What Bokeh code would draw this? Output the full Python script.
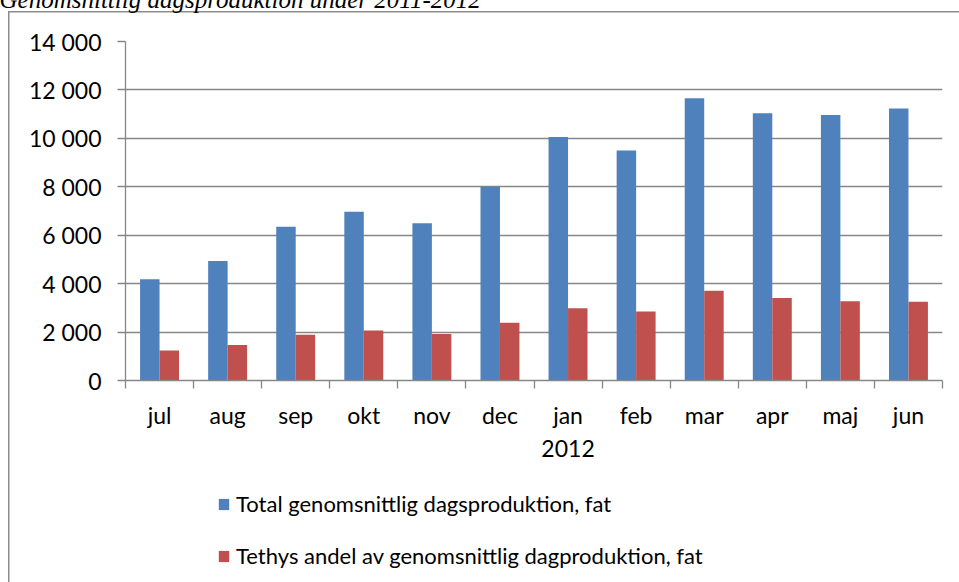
import numpy as np
from bokeh.plotting import figure
from bokeh.layouts import column
from bokeh.models import (Range1d, FixedTicker, ColumnDataSource, Legend, LegendItem, Label)
from bokeh.transform import dodge
from bokeh.embed import file_html
from bokeh.resources import INLINE

# ---- data ----
months = ["jul", "aug", "sep", "okt", "nov", "dec", "jan", "feb", "mar", "apr", "maj", "jun"]
year_labels = {"jan": "2012"}
total = [4180, 4940, 6350, 6970, 6490, 8000, 10060, 9500, 11660, 11040, 10960, 11230]
tethys = [1240, 1470, 1890, 2060, 1920, 2380, 2980, 2850, 3710, 3410, 3270, 3250]
y_ticks = [0, 2000, 4000, 6000, 8000, 10000, 12000, 14000]
series_names = ["Total genomsnittlig dagsproduktion, fat",
                "Tethys andel av genomsnittlig dagproduktion, fat"]
title_text = "Genomsnittlig dagsproduktion under 2011-2012"

BLUE = "#4F81BD"
RED = "#C0504D"
GRID = "#878787"
BORDER = "#8c8c8c"
FONT = "Lato"

n = len(months)
centers = list(np.arange(n) + 0.5)
bounds = list(np.arange(n + 1).astype(float))

src = ColumnDataSource(dict(x=centers, total=total, tethys=tethys))

# chart frame border (left + top) drawn as the element background
line = f"linear-gradient({BORDER},{BORDER})"
css_top = {"background": f"{line} 8px 27px / 1.5px 100% no-repeat, "
                         f"{line} 8px 27px / 100% 1.5px no-repeat, #ffffff"}
css_bottom = {"background": f"{line} 8px 0px / 1.5px 100% no-repeat, #ffffff"}

p = figure(width=959, height=486,
           x_range=Range1d(0, n), y_range=Range1d(0, y_ticks[-1]),
           output_backend="svg", toolbar_location=None,
           min_border_left=125, min_border_right=17,
           min_border_top=57, min_border_bottom=90,
           styles=css_top)
p.outline_line_color = None
p.background_fill_color = "white"
p.border_fill_color = None

bw = 0.286
r1 = p.vbar(x=dodge("x", -bw / 2), top="total", width=bw, source=src,
            fill_color=BLUE, line_color=None)
r2 = p.vbar(x=dodge("x", bw / 2), top="tethys", width=bw, source=src,
            fill_color=RED, line_color=None)

# x axis
xa = p.xaxis[0]
xa.ticker = FixedTicker(ticks=centers, minor_ticks=bounds)
xa.major_label_overrides = {c: (m + "\n" + year_labels[m] if m in year_labels else m)
                            for c, m in zip(centers, months)}
xa.major_tick_line_color = None
xa.major_tick_out = 8
xa.major_tick_in = 0
xa.minor_tick_line_color = GRID
xa.minor_tick_line_width = 1.3
xa.minor_tick_out = 8
xa.minor_tick_in = 0
xa.axis_line_color = GRID
xa.axis_line_width = 1.3
xa.major_label_text_font = FONT
xa.major_label_text_font_size = "23px"
xa.major_label_text_color = "black"
xa.major_label_standoff = 12

# y axis
ya = p.yaxis[0]
ya.ticker = FixedTicker(ticks=y_ticks, minor_ticks=[])
ya.major_label_overrides = {v: f"{v:,}".replace(",", " ") for v in y_ticks}
ya.major_tick_line_color = GRID
ya.major_tick_line_width = 1.3
ya.major_tick_out = 8
ya.major_tick_in = 0
ya.minor_tick_line_color = None
ya.axis_line_color = GRID
ya.axis_line_width = 1.3
ya.major_label_text_font = FONT
ya.major_label_text_font_size = "23px"
ya.major_label_text_color = "black"
ya.major_label_standoff = 16

p.xgrid.visible = False
p.ygrid.grid_line_color = GRID
p.ygrid.grid_line_width = 1.3

# cut-off document caption above the chart
p.add_layout(Label(x=-1, y=15, x_units="canvas", y_units="canvas", text=title_text,
                   text_font="Liberation Serif", text_font_style="italic",
                   text_font_size="25px", text_baseline="alphabetic", text_align="left",
                   text_color="black"), "above")

# legend strip below the chart (its own figure, so the legend is not clipped;
# its frame is aligned with the chart frame by the column layout)
lg = figure(width=959, height=112, x_range=Range1d(0, 1), y_range=Range1d(0, 1),
            output_backend="svg", toolbar_location=None,
            x_axis_location=None, y_axis_location=None,
            min_border_left=0, min_border_right=0, min_border_top=0, min_border_bottom=0,
            styles=css_bottom)
lg.grid.visible = False
lg.outline_line_color = None
lg.background_fill_color = None
lg.border_fill_color = None
# hidden twins of the bar series, used only for the legend swatches
k1 = lg.vbar(x=dodge("x", -bw / 2), top="total", width=bw, source=src,
             fill_color=BLUE, line_color=None, visible=False)
k2 = lg.vbar(x=dodge("x", bw / 2), top="tethys", width=bw, source=src,
             fill_color=RED, line_color=None, visible=False)

legend = Legend(items=[LegendItem(label=series_names[0], renderers=[k1]),
                       LegendItem(label=series_names[1], renderers=[k2])],
                location=(92, 13), orientation="vertical",
                padding=0, margin=0, spacing=25,
                glyph_width=13, glyph_height=14, label_standoff=6,
                label_text_font=FONT, label_text_font_size="22px",
                label_text_color="black",
                border_line_color=None, background_fill_alpha=0)
lg.add_layout(legend)

layout = column(p, lg, spacing=0, styles={"margin-top": "-16px"})

open("out.html", "w").write(file_html(layout, INLINE))
